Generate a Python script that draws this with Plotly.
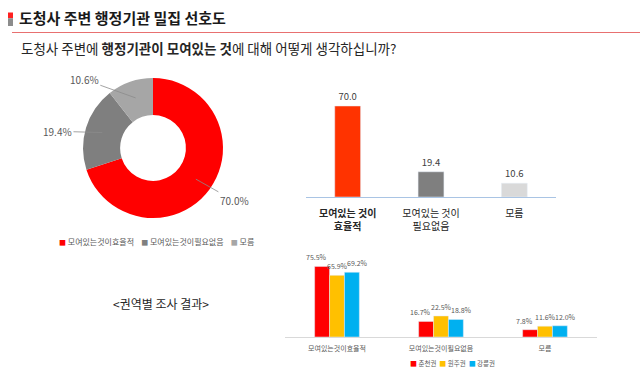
import math
import plotly.graph_objects as go

W, H = 640, 373
FONT = "Noto Sans CJK KR"

# ---- data ----
pie_labels = ["모여있는것이효율적", "모여있는것이필요없음", "모름"]
pie_values = [70.0, 19.4, 10.6]
pie_colors = ["#FF0000", "#7F7F7F", "#A6A6A6"]

top_categories = ["<b>모여있는 것이<br>효율적</b>", "모여있는 것이<br>필요없음", "모름"]
top_values = [70.0, 19.4, 10.6]
top_colors = ["#FF3300", "#7F7F7F", "#D9D9D9"]

region_categories = ["모여있는것이효율적", "모여있는것이필요없음", "모름"]
region_names = ["춘천권", "원주권", "강릉권"]
region_values = {
    "춘천권": [75.5, 16.7, 7.8],
    "원주권": [65.9, 22.5, 11.6],
    "강릉권": [69.2, 18.8, 12.0],
}
region_colors = ["#FF0000", "#FFC000", "#00B0F0"]

title_text = "도청사 주변 행정기관 밀집 선호도"
subtitle_text = "도청사 주변에 <b>행정기관이 모여있는 것</b>에 대해 어떻게 생각하십니까?"
region_title = "<권역별 조사 결과>"

# ---- layout helpers (pixels -> paper) ----
def px(x):
    return x / W


def py(y):
    return 1 - y / H


PIE_CX, PIE_CY, PIE_R = 153, 148, 70
LEADER_R_POINT = 53          # where leader line touches the ring
LEADER_R_LABEL = 97          # label distance from centre
LEADER_NUDGE_DEG = [-3, -7, -26]  # style nudges so labels sit like the original

X2_LEFT, X2_RIGHT = 285, 597
BARGAP2 = 0.57
LABEL_SPREAD = 6  # extra px between neighbouring value labels

fig = go.Figure()

# donut
fig.add_trace(go.Pie(
    labels=pie_labels, values=pie_values, sort=False, direction="clockwise",
    rotation=0, hole=0.47,
    marker=dict(colors=pie_colors, line=dict(color="white", width=0)),
    textinfo="none",
    domain=dict(x=[px(PIE_CX - PIE_R), px(PIE_CX + PIE_R)],
                y=[py(PIE_CY + PIE_R), py(PIE_CY - PIE_R)]),
    showlegend=False, hoverinfo="label+value",
))

# top-right bar chart
fig.add_trace(go.Bar(
    x=top_categories, y=top_values, marker_color=top_colors,
    text=[f"{v:.1f}" for v in top_values], textposition="outside",
    textfont=dict(size=9.5, color="#404040", family=FONT),
    cliponaxis=False, showlegend=False, xaxis="x", yaxis="y", width=0.31,
))

annotations = []

# regional grouped bars (value labels as annotations, spread a little)
slot_px = (X2_RIGHT - X2_LEFT) / len(region_categories)
bar_px = slot_px * (1 - BARGAP2) / len(region_names)
for i, (name, color) in enumerate(zip(region_names, region_colors)):
    vals = region_values[name]
    fig.add_trace(go.Bar(
        x=region_categories, y=vals, name=name, marker_color=color,
        cliponaxis=False, xaxis="x2", yaxis="y2", showlegend=False,
    ))
    shift = (i - (len(region_names) - 1) / 2) * (bar_px + LABEL_SPREAD)
    for cat, v in zip(region_categories, vals):
        annotations.append(dict(
            text=f"{v:.1f}%", x=cat, y=v, xref="x2", yref="y2",
            xanchor="center", yanchor="bottom", xshift=shift, yshift=2,
            showarrow=False, font=dict(size=7, color="#595959", family=FONT)))

shapes = [
    dict(type="rect", xref="paper", yref="paper", x0=px(8), x1=px(13),
         y0=py(18.3), y1=py(12.5), fillcolor="#FF2020", line_width=0),
    dict(type="rect", xref="paper", yref="paper", x0=px(8), x1=px(13),
         y0=py(26), y1=py(18.3), fillcolor="#8C8C8C", line_width=0),
    dict(type="line", xref="paper", yref="paper", x0=px(12), x1=1,
         y0=py(32.5), y1=py(32.5), line=dict(color="#E87070", width=1)),
]

annotations += [
    dict(text=f"<b>{title_text}</b>", x=px(17), y=py(17.5), xref="paper", yref="paper",
         xanchor="left", yanchor="middle", showarrow=False,
         font=dict(size=15, color="#1A1A1A", family=FONT)),
    dict(text=subtitle_text, x=px(19), y=py(48), xref="paper", yref="paper",
         xanchor="left", yanchor="middle", showarrow=False,
         font=dict(size=13.5, color="#262626", family=FONT)),
    dict(text=region_title, x=px(161), y=py(303), xref="paper", yref="paper",
         xanchor="center", yanchor="middle", showarrow=False,
         font=dict(size=12, color="#262626", family=FONT)),
]

# donut labels with leader lines, placed from the slice angles
total = sum(pie_values)
acc = 0.0
for val, nudge in zip(pie_values, LEADER_NUDGE_DEG):
    mid = (acc + val / 2) / total * 360.0
    acc += val
    t = math.radians(mid)
    tl = math.radians(mid + nudge)
    pxp = PIE_CX + LEADER_R_POINT * math.sin(t)
    pyp = PIE_CY - LEADER_R_POINT * math.cos(t)
    lx = PIE_CX + LEADER_R_LABEL * math.sin(tl)
    ly = PIE_CY - LEADER_R_LABEL * math.cos(tl)
    annotations.append(dict(
        text=f"{val:.1f}%", x=px(pxp), y=py(pyp), xref="paper", yref="paper",
        showarrow=True, arrowhead=0, arrowwidth=0.8, arrowcolor="#8C8C8C",
        ax=lx - pxp, ay=ly - pyp, standoff=0,
        font=dict(size=10, color="#595959", family=FONT),
    ))

# compact legends (as in the original)
def legend_text(names, colors, gap):
    parts = [f'<span style="color:{c};font-size:7px">■</span> {n}' for n, c in zip(names, colors)]
    return gap.join(parts)

annotations.append(dict(
    text=legend_text(pie_labels, pie_colors, "&nbsp;&nbsp;&nbsp;&nbsp;"),
    x=px(156), y=py(241), xref="paper", yref="paper", xanchor="center", yanchor="middle",
    showarrow=False, font=dict(size=8, color="#595959", family=FONT)))
annotations.append(dict(
    text=legend_text(region_names, region_colors, "&nbsp;&nbsp;"),
    x=px(452), y=py(363), xref="paper", yref="paper", xanchor="center", yanchor="middle",
    showarrow=False, font=dict(size=6.5, color="#595959", family=FONT)))

fig.update_layout(
    width=W, height=H, margin=dict(l=0, r=0, t=0, b=0),
    paper_bgcolor="white", plot_bgcolor="white",
    font=dict(family=FONT, color="#404040"),
    barmode="group", bargap=BARGAP2, bargroupgap=0, showlegend=False,
    xaxis=dict(domain=[px(306), px(556)], anchor="y", showline=True, linecolor="#A9C4E4",
               linewidth=1, showgrid=False, ticks="", zeroline=False, ticklabelstandoff=7,
               tickfont=dict(size=10, color="#262626", family=FONT)),
    yaxis=dict(domain=[py(197), py(93)], anchor="x", range=[0, 80], visible=False),
    xaxis2=dict(domain=[px(X2_LEFT), px(X2_RIGHT)], anchor="y2", showline=True,
                linecolor="#D9D9D9", linewidth=1, showgrid=False, ticks="",
                zeroline=False, ticklabelstandoff=5,
                tickfont=dict(size=7, color="#595959", family=FONT)),
    yaxis2=dict(domain=[py(337), py(257.5)], anchor="x2", range=[0, 85], visible=False),
    shapes=shapes, annotations=annotations,
)

fig.write_html("out.html", config={"displayModeBar": False},
               post_script="document.body.style.margin='0';")
